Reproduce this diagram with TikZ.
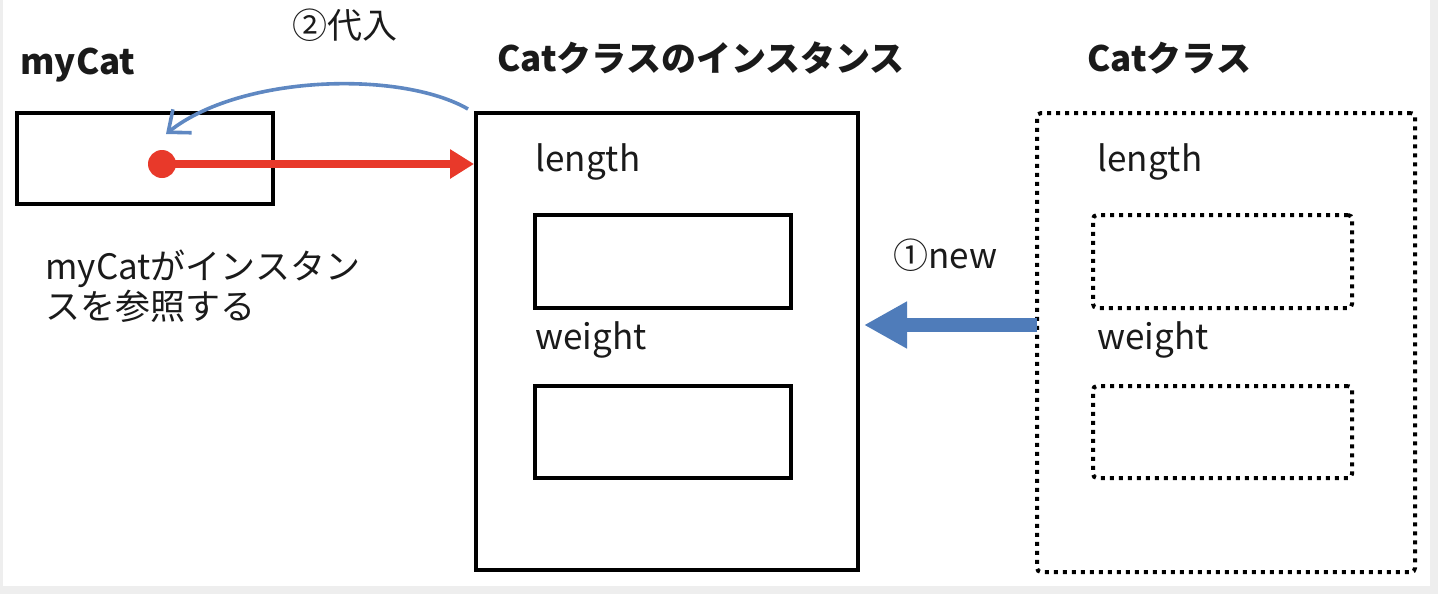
\documentclass[tikz,border=0pt]{standalone}
\usepackage{fontspec}
\setmainfont{Noto Sans CJK JP}
\usetikzlibrary{arrows.meta,calc}
\definecolor{frame}{HTML}{EEEEEE}
\definecolor{redarr}{HTML}{E8392A}
\definecolor{bluearr}{HTML}{4F7CBA}
\definecolor{bluethin}{HTML}{5F88C2}
\definecolor{txt}{HTML}{1A1A1A}
\begin{document}
\begin{tikzpicture}[x=0.5pt,y=-0.5pt,
  solidbox/.style={draw=black,line width=2pt,inner sep=0pt,fill=white},
  dotbox/.style={draw=black,line width=2pt,inner sep=0pt,dash pattern=on 2pt off 2.5pt,rounded corners=2pt},
  lbl/.style={font=\fontsize{17.5pt}{21pt}\selectfont,text=txt,inner sep=0pt,anchor=west},
  title/.style={font=\fontsize{17.5pt}{21pt}\selectfont\bfseries,text=txt,inner sep=0pt,anchor=west}]
\useasboundingbox (0,0) rectangle (1438,594);
\fill[frame] (0,0) rectangle (1438,594);
\fill[white] (3,0) rectangle (1430,586);
% boxes
\node[solidbox,minimum width=128pt,minimum height=45.5pt] (var) at (145,158.5) {};
\node[solidbox,minimum width=191pt,minimum height=228.5pt] (inst) at (667,341.5) {};
\node[solidbox,minimum width=128pt,minimum height=46.5pt] (ilen) at (663,261.5) {};
\node[solidbox,minimum width=128pt,minimum height=46pt] (iwt) at (663,432) {};
\node[dotbox,minimum width=189pt,minimum height=229.5pt] (cls) at (1226,342.5) {};
\node[dotbox,minimum width=129.5pt,minimum height=46.5pt] (clen) at (1222.5,261.5) {};
\node[dotbox,minimum width=129.5pt,minimum height=46pt] (cwt) at (1222.5,432) {};
% titles and labels
\node[title] (tvar) at (20,65) {myCat};
\node[title] (tinst) at (497,58) {Catクラスのインスタンス};
\node[title] (tcls) at (1087,58) {Catクラス};
\node[lbl] (l1) at (535,162) {length};
\node[lbl] (w1) at (535,340) {weight};
\node[lbl] (l2) at (1097,162) {length};
\node[lbl] (w2) at (1097,340) {weight};
\node[lbl] (new) at (893,255) {①new};
\node[lbl] (sub) at (292,25) {②代入};
\node[lbl,align=left,font=\fontsize{17.5pt}{18.5pt}\selectfont] (ref) at (45,286) {myCatがインスタン\\スを参照する};
% red reference arrow
\node[circle,fill=redarr,minimum size=14pt,inner sep=0pt] (dot) at (162,164) {};
\draw[redarr,line width=4pt,-{Triangle[length=12pt,width=14pt]}] (dot.center) -- (dot -| inst.west);
% blue new arrow
\coordinate (na) at (1037,325);
\draw[bluearr,line width=7pt,-{Triangle[length=21.5pt,width=22pt]}] (na) -- ($(na -| inst.east)+(4,0)$);
% curved assignment arrow
\coordinate (ca) at ($(inst.north west)+(-6,-2)$);
\coordinate (cb) at (166,134);
\draw[bluethin,line width=1.8pt,-{Straight Barb[length=9pt,width=15pt]}] (ca) .. controls (400,70) and (240,75) .. (cb);
\end{tikzpicture}
\end{document}
